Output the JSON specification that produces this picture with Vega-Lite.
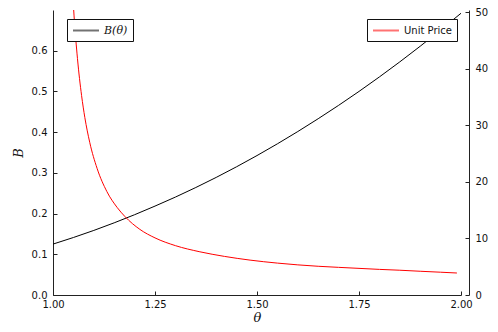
{
  "$schema": "https://vega.github.io/schema/vega-lite/v6.json",
  "width": 408,
  "height": 285,
  "autosize": {"type": "none"},
  "padding": {"left": 53, "top": 10, "right": 37, "bottom": 37},
  "background": "white",
  "config": {
    "view": {"stroke": null},
    "axis": {
      "grid": false,
      "domainColor": "#222",
      "tickColor": "#222",
      "labelColor": "#111",
      "labelFont": "DejaVu Sans",
      "labelFontSize": 10,
      "tickSize": -4,
      "labelFlush": false,
      "titleFont": "DejaVu Serif",
      "titleFontStyle": "italic",
      "titleFontWeight": "normal",
      "titleFontSize": 13,
      "titleColor": "#111"
    },
    "legend": {
      "strokeColor": "#111",
      "fillColor": "white",
      "padding": 5,
      "cornerRadius": 0,
      "symbolType": "M-1,0H3.73",
      "symbolStrokeWidth": 2,
      "symbolSize": 121,
      "symbolOpacity": 0.55,
      "symbolFillColor": "transparent",
      "labelFontSize": 10,
      "labelOffset": 19,
      "labelColor": "#111",
      "titlePadding": 0
    }
  },
  "datasets": {
    "bdata": [
      {"theta": 1.0, "B": 0.125, "series": "B(θ)"},
      {"theta": 1.05, "B": 0.1412, "series": "B(θ)"},
      {"theta": 1.1, "B": 0.1586, "series": "B(θ)"},
      {"theta": 1.15, "B": 0.1773, "series": "B(θ)"},
      {"theta": 1.2, "B": 0.1972, "series": "B(θ)"},
      {"theta": 1.25, "B": 0.2184, "series": "B(θ)"},
      {"theta": 1.3, "B": 0.2405, "series": "B(θ)"},
      {"theta": 1.35, "B": 0.264, "series": "B(θ)"},
      {"theta": 1.4, "B": 0.2888, "series": "B(θ)"},
      {"theta": 1.45, "B": 0.315, "series": "B(θ)"},
      {"theta": 1.5, "B": 0.3425, "series": "B(θ)"},
      {"theta": 1.55, "B": 0.3713, "series": "B(θ)"},
      {"theta": 1.6, "B": 0.4015, "series": "B(θ)"},
      {"theta": 1.65, "B": 0.433, "series": "B(θ)"},
      {"theta": 1.7, "B": 0.4658, "series": "B(θ)"},
      {"theta": 1.75, "B": 0.5, "series": "B(θ)"},
      {"theta": 1.8, "B": 0.5356, "series": "B(θ)"},
      {"theta": 1.85, "B": 0.5726, "series": "B(θ)"},
      {"theta": 1.9, "B": 0.611, "series": "B(θ)"},
      {"theta": 1.95, "B": 0.6508, "series": "B(θ)"},
      {"theta": 2.0, "B": 0.692, "series": "B(θ)"}
    ],
    "pdata": [
      {"theta": 1.046, "price": 56.5, "series": "Unit Price"},
      {"theta": 1.0515, "price": 49.5, "series": "Unit Price"},
      {"theta": 1.06, "price": 41.8, "series": "Unit Price"},
      {"theta": 1.07, "price": 35.3, "series": "Unit Price"},
      {"theta": 1.078, "price": 31.4, "series": "Unit Price"},
      {"theta": 1.09, "price": 27.0, "series": "Unit Price"},
      {"theta": 1.108, "price": 22.4, "series": "Unit Price"},
      {"theta": 1.132, "price": 18.3, "series": "Unit Price"},
      {"theta": 1.157, "price": 15.5, "series": "Unit Price"},
      {"theta": 1.176, "price": 13.9, "series": "Unit Price"},
      {"theta": 1.213, "price": 11.6, "series": "Unit Price"},
      {"theta": 1.25, "price": 10.1, "series": "Unit Price"},
      {"theta": 1.3, "price": 8.73, "series": "Unit Price"},
      {"theta": 1.36, "price": 7.64, "series": "Unit Price"},
      {"theta": 1.42, "price": 6.83, "series": "Unit Price"},
      {"theta": 1.483, "price": 6.17, "series": "Unit Price"},
      {"theta": 1.55, "price": 5.64, "series": "Unit Price"},
      {"theta": 1.6, "price": 5.33, "series": "Unit Price"},
      {"theta": 1.65, "price": 5.08, "series": "Unit Price"},
      {"theta": 1.7, "price": 4.89, "series": "Unit Price"},
      {"theta": 1.75, "price": 4.71, "series": "Unit Price"},
      {"theta": 1.8, "price": 4.53, "series": "Unit Price"},
      {"theta": 1.85, "price": 4.38, "series": "Unit Price"},
      {"theta": 1.9, "price": 4.2, "series": "Unit Price"},
      {"theta": 1.95, "price": 4.03, "series": "Unit Price"},
      {"theta": 1.99, "price": 3.89, "series": "Unit Price"}
    ]
  },
  "layer": [
    {
      "data": {"name": "bdata"},
      "mark": {"type": "line", "strokeWidth": 1, "clip": true, "interpolate": "monotone"},
      "encoding": {
        "x": {
          "field": "theta", "type": "quantitative",
          "scale": {"domain": [1, 2], "nice": false, "zero": false},
          "axis": {"title": "θ", "values": [1, 1.25, 1.5, 1.75, 2], "format": ".2f", "labelPadding": 8, "titlePadding": 2}
        },
        "y": {
          "field": "B", "type": "quantitative",
          "scale": {"domain": [0, 0.7], "nice": false},
          "axis": {"title": "B", "values": [0, 0.1, 0.2, 0.3, 0.4, 0.5, 0.6], "format": ".1f", "labelPadding": 10, "titlePadding": 6}
        },
        "color": {
          "field": "series", "type": "nominal",
          "scale": {"domain": ["B(θ)"], "range": ["black"]},
          "legend": {"title": null, "orient": "none", "legendX": 14, "legendY": 9, "labelFont": "DejaVu Serif", "labelFontStyle": "italic", "labelFontSize": 11}
        }
      }
    },
    {
      "data": {"name": "pdata"},
      "mark": {"type": "line", "strokeWidth": 1, "clip": true, "interpolate": "monotone"},
      "encoding": {
        "x": {"field": "theta", "type": "quantitative"},
        "y": {
          "field": "price", "type": "quantitative",
          "scale": {"domain": [0, 50.4], "nice": false},
          "axis": {"title": null, "orient": "right", "offset": 8, "values": [0, 10, 20, 30, 40, 50], "labelPadding": 10}
        },
        "color": {
          "field": "series", "type": "nominal",
          "scale": {"domain": ["Unit Price"], "range": ["red"]},
          "legend": {"title": null, "orient": "none", "legendX": 314, "legendY": 9, "labelFont": "DejaVu Sans"}
        }
      }
    }
  ],
  "resolve": {"scale": {"y": "independent", "color": "independent"}, "legend": {"color": "independent"}}
}
